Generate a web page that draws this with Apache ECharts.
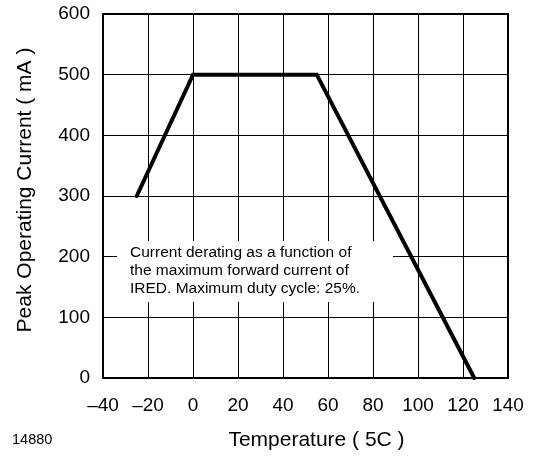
<!DOCTYPE html>
<html>
<head>
<meta charset="utf-8">
<script src="https://cdn.jsdelivr.net/npm/echarts@6/dist/echarts.min.js"></script>
<style>
  html, body { margin: 0; padding: 0; background: #fff; }
  #container { width: 534px; height: 456px; }
</style>
</head>
<body>
<div id="container"></div>
<script>
// derating curve points (temperature °C, current mA)
var temps = [-25, 0, 55, 125];
var currents = [300, 500, 500, 0];
var noteLines = [
	'Current derating as a function of',
	'the maximum forward current of',
	'IRED. Maximum duty cycle: 25%.'
];

window.onload = function(){
	var myChart = echarts.init(document.getElementById('container'));
	var font = 'Liberation Sans, Arial, sans-serif';
	var pts = temps.map(function(t, i){ return [t, currents[i]]; });
	myChart.setOption({
		animation: false,
		grid: {
			left: 103, right: 26, top: 14, bottom: 77,
			show: true, borderColor: '#000', borderWidth: 2,
			backgroundColor: 'transparent'
		},
		xAxis: {
			type: 'value', min: -40, max: 140, interval: 20,
			name: 'Temperature ( 5C )', nameLocation: 'middle', nameGap: 52,
			nameTextStyle: { color: '#000', fontSize: 21, fontFamily: font, padding: [0, 0, 0, 22] },
			axisLine: { onZero: false, lineStyle: { color: '#000', width: 2 } },
			axisTick: { show: false },
			axisLabel: {
				color: '#000', fontSize: 19, fontFamily: font, margin: 18,
				formatter: function(v){ return String(v).replace('-', '\u2013'); }
			},
			splitLine: { lineStyle: { color: '#000', width: 1 } }
		},
		yAxis: {
			type: 'value', min: 0, max: 600, interval: 100,
			name: 'Peak Operating Current ( mA )', nameLocation: 'middle', nameGap: 67,
			nameTextStyle: { color: '#000', fontSize: 21, fontFamily: font, padding: [0, 0, 0, 12] },
			axisLine: { onZero: false, lineStyle: { color: '#000', width: 2 } },
			axisTick: { show: false },
			axisLabel: { color: '#000', fontSize: 19, fontFamily: font, margin: 13 },
			splitLine: { lineStyle: { color: '#000', width: 1 } }
		},
		graphic: [
			{
				type: 'rect', z: 50,
				shape: { x: 117, y: 241, width: 276, height: 61 },
				style: { fill: '#fff' }
			},
			{
				type: 'text', z: 51, left: 130, top: 244,
				style: {
					text: noteLines.join('\n'), fill: '#000',
					font: '15.5px ' + font, lineHeight: 18
				}
			},
			{
				type: 'text', z: 51, left: 12, top: 432,
				style: { text: '14880', fill: '#000', font: '14.5px ' + font }
			}
		],
		series: [{
			type: 'line', data: pts, symbol: 'none', z: 60,
			lineStyle: { color: '#000', width: 4, cap: 'round', join: 'miter' }
		}]
	});
};
</script>
</body>
</html>
